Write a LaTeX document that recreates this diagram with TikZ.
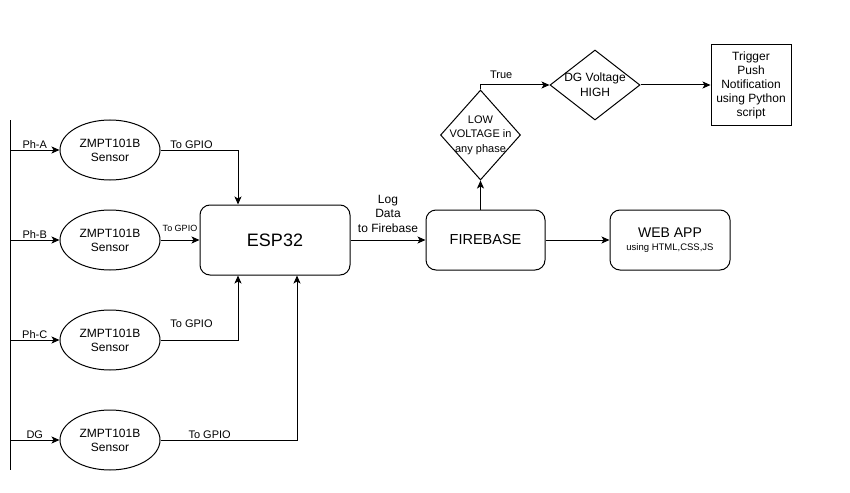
\documentclass[tikz,border=0pt]{standalone}
\usepackage{fontspec}
\setmainfont{Liberation Sans}
\usetikzlibrary{arrows.meta,shapes.geometric,positioning,calc}

\begin{document}
\begin{tikzpicture}[x=1pt,y=-1pt,line width=1pt,>={Stealth[length=8pt,width=7pt,inset=2pt]},
 txt/.style={font=\fontsize{11}{14}\selectfont,align=center,inner sep=1},
 sensor/.style={draw,ellipse,minimum width=100,minimum height=60,inner sep=0,align=center,font=\fontsize{12}{14}\selectfont},
 blk/.style={draw,rounded corners=10,inner sep=0,align=center},
 dia/.style={draw,diamond,inner sep=0}]
\useasboundingbox (0,0) rectangle (850,492);
\coordinate (bustop) at (10,120);
\coordinate (busbot) at (10,470);
\draw (bustop) -- (busbot);
\foreach \n/\ph/\y in {a/Ph-A/150,b/Ph-B/240,c/Ph-C/340,d/DG/440} {
 \node[sensor] (s\n) at (110,\y) {ZMPT101B\\Sensor};
 \coordinate (in\n) at (10,\y);
 \draw[->] (in\n) -- (s\n) node[midway,above,txt] {\ph};
}
\node[blk,minimum width=150,minimum height=70,font=\fontsize{18}{20}\selectfont] (esp) at (275,240) {ESP32};
\node[blk,minimum width=119,minimum height=60,font=\fontsize{14.5}{17}\selectfont] (fb) at (485.5,240) {FIREBASE};
\node[blk,minimum width=120,minimum height=60] (web) at (670,240) {{\fontsize{14}{16}\selectfont WEB APP}\\[1pt]{\fontsize{9.5}{11}\selectfont using HTML,CSS,JS}};
\node[dia,minimum width=80,minimum height=90,label={[txt,font=\fontsize{11}{14.5}\selectfont]center:LOW\\VOLTAGE in\\any phase}] (low) at (480.5,135) {};
\node[dia,minimum width=90,minimum height=70,label={[txt,font=\fontsize{12}{15}\selectfont]center:DG Voltage\\HIGH}] (dg) at (595,85) {};
\node[draw,minimum width=80,minimum height=80,inner sep=0,align=center,font=\fontsize{12}{14}\selectfont] (trig) at (751,85) {Trigger\\Push\\Notification\\using Python\\script};
\draw[->] (sa.east) -| ([xshift=-37]esp.north) node[pos=.2,above,txt] {To GPIO};
\draw[->] (sb) -- (esp) node[midway,above,yshift=7pt,txt,font=\fontsize{9}{11}\selectfont] {To GPIO};
\draw[->] (sc.east) -| ([xshift=-37]esp.south) node[pos=.2,above,yshift=11pt,txt] {To GPIO};
\draw[->] (sd.east) -| ([xshift=22]esp.south) node[pos=.18,above,txt] {To GPIO};
\draw[->] (esp) -- (fb) node[midway,above,yshift=6pt,txt,font=\fontsize{12}{14.5}\selectfont] {Log\\Data\\to Firebase};
\draw[->] (fb) -- (web);
\draw[->] (fb.north -| low.south) -- (low.south);
\draw[->] (low.north) |- (dg.west) node[pos=.65,above,yshift=5pt,txt] {True};
\draw[->] (dg) -- (trig);
\end{tikzpicture}
\end{document}
